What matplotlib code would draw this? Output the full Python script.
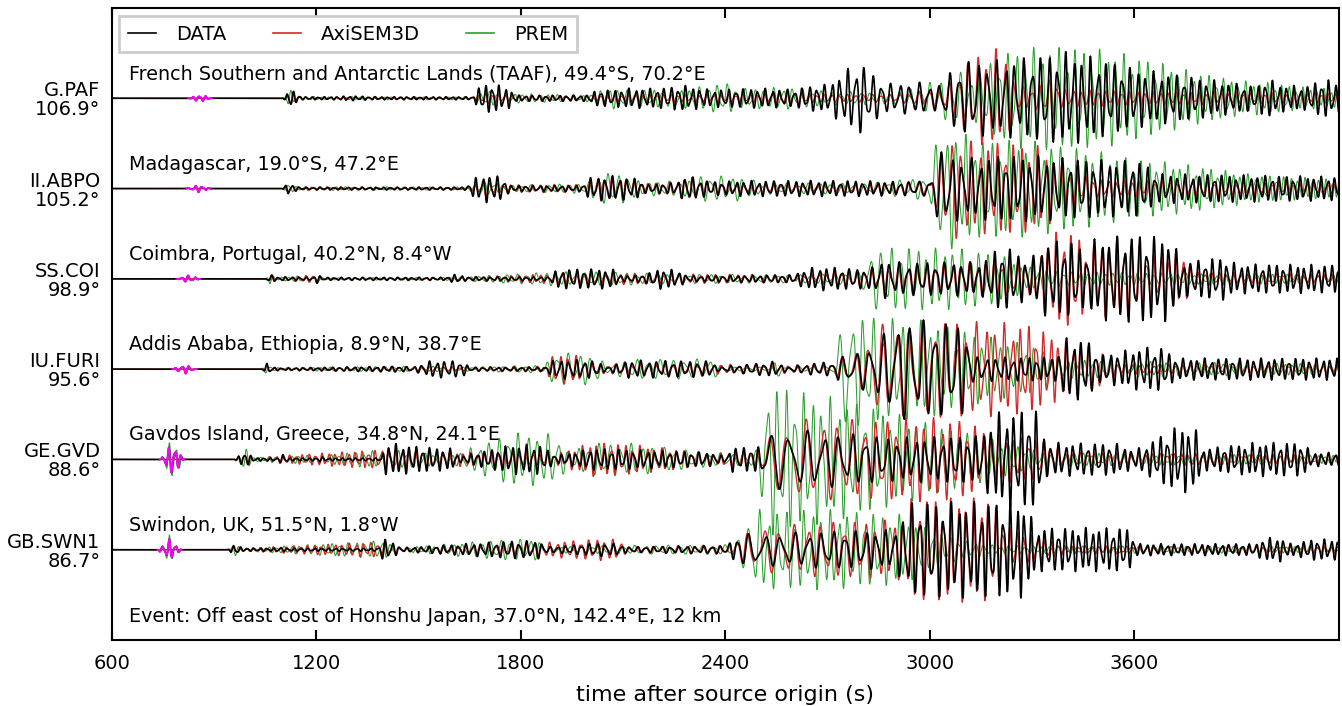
import numpy as np
import matplotlib
matplotlib.use("Agg")
import matplotlib.pyplot as plt

# ---------------- data ----------------
STATIONS = ["G.PAF", "II.ABPO", "SS.COI", "IU.FURI", "GE.GVD", "GB.SWN1"]
DISTANCES = [106.9, 105.2, 98.9, 95.6, 88.6, 86.7]
LOCATIONS = [
    "French Southern and Antarctic Lands (TAAF), 49.4°S, 70.2°E",
    "Madagascar, 19.0°S, 47.2°E",
    "Coimbra, Portugal, 40.2°N, 8.4°W",
    "Addis Ababa, Ethiopia, 8.9°N, 38.7°E",
    "Gavdos Island, Greece, 34.8°N, 24.1°E",
    "Swindon, UK, 51.5°N, 1.8°W",
]
EVENT = "Event: Off east cost of Honshu Japan, 37.0°N, 142.4°E, 12 km"
SERIES = ["DATA", "AxiSEM3D", "PREM"]
XTICKS = [600, 1200, 1800, 2400, 3000, 3600]
T_START, T_END = 600, 4200
# data window drawn in magenta (s)
MAGENTA_WINDOWS = [(825, 895), (820, 890), (790, 860), (778, 850), (742, 812), (735, 805)]

# envelopes: (time s, amplitude in hundredths of trace spacing)
DATA_PAF = [(600,0),(825,0),(860,4),(895,0),(1100,0),(1110,2),(1122,11),(1140,5),(1160,1.5),(1250,1.5),(1300,2.5),
            (1380,1.5),(1660,1.5),(1680,13),(1720,15),(1766,10),(1790,3),(1990,3),(2030,9),(2068,8),(2100,10),
            (2200,10),(2280,13),(2350,9),(2500,10),(2600,9),(2654,13),(2700,14),(2760,30),(2800,36),
            (2830,25),(2870,15),(2980,16),(3020,12),(3069,30),(3110,38),(3200,38),(3300,42),(3400,47),
            (3500,40),(3600,30),(3700,25),(3800,20),(3900,15),(3960,12),(3990,22),(4020,14),(4100,12),
            (4160,20),(4200,14)]
SYN_PAF = [(600,0),(1100,0),(1110,2),(1122,10),(1140,4),(1160,1),(1380,1),(1660,1),(1700,6),(1766,3),
           (2000,3),(2100,4),(2400,4),(2600,6),(2700,4),(2900,4),(3040,10),(3080,25),(3131,45),(3180,50),
           (3221,48),(3250,15),(3300,9),(3360,22),(3390,9),(3600,7),(4200,5)]
PREM_PAF = [(600,0),(1100,0),(1110,2),(1122,9),(1140,4),(1160,1.5),(1380,1.5),(1660,1.5),(1700,8),(1766,5),
            (1990,3),(2068,11),(2100,8),(2300,10),(2400,16),(2450,10),(2600,11),(2700,7),(2900,6),
            (3040,20),(3080,28),(3120,20),(3170,35),(3250,50),(3400,52),(3530,48),(3650,38),(3760,28),
            (3900,18),(3990,16),(4100,11),(4200,9)]

DATA_ABPO = [(600,0),(820,0),(856,4),(890,0),(1100,0),(1108,2),(1117,7),(1135,3),(1160,1),(1640,1.5),
             (1660,10),(1700,14),(1745,12),(1770,3),(1980,3),(2000,11),(2060,13),(2147,10),(2170,4),
             (2250,6),(2290,13),(2322,10),(2360,7),(2460,8),(2790,8),(2900,7),(3000,8),(3025,37),
             (3060,37),(3090,30),(3200,33),(3300,33),(3450,30),(3540,28),(3625,28),(3660,15),(4200,12)]
SYN_ABPO = [(600,0),(1100,0),(1108,2),(1117,6),(1140,2),(1640,1),(1700,8),(1745,4),(1990,4),(2040,13),
            (2100,10),(2147,5),(2260,7),(2290,14),(2322,7),(2460,4),(2800,4),(3000,7),(3030,30),
            (3050,52),(3150,45),(3230,47),(3330,42),(3400,20),(3500,9),(4200,5)]
PREM_ABPO = [(600,0),(1100,0),(1108,2),(1117,6),(1140,2),(1640,1.5),(1700,7),(1745,3),(1990,5),(2040,16),
             (2120,14),(2147,7),(2300,8),(2322,13),(2460,12),(2500,6),(2800,5),(3000,12),(3025,58),
             (3060,60),(3150,50),(3300,48),(3450,40),(3600,30),(3760,24),(3950,14),(4200,9)]

DATA_COI = [(600,0),(790,0),(826,4),(860,0),(1050,0),(1058,2),(1064,6),(1080,2),(1190,1.5),(1201,5),(1220,1.5),
            (1580,1.5),(1610,5),(1640,2),(1880,2),(1910,10),(2068,10),(2100,3),(2160,4),(2214,11),(2263,8),
            (2290,3),(2600,4),(2640,11),(2700,12),(2790,10),(2835,12),(2861,20),(2900,17),(3150,17),
            (3206,33),(3247,30),(3290,18),(3341,38),(3426,38),(3460,25),(3479,40),(3600,45),(3707,42),
            (3740,17),(3856,22),(3900,15),(4200,14)]
SYN_COI = [(600,0),(1050,0),(1064,5),(1080,1.5),(1201,4),(1220,1),(1600,1.5),(1900,5),(2068,6),(2214,5),
           (2600,4),(2700,6),(2800,9),(2900,12),(3150,17),(3300,20),(3373,48),(3426,48),(3460,30),
           (3500,38),(3605,38),(3640,25),(3738,27),(3780,7),(4200,5)]
PREM_COI = [(600,0),(1050,0),(1064,5),(1080,1.5),(1201,4),(1220,1),(1600,1.5),(1900,7),(2068,7),(2214,5),
            (2600,4),(2790,6),(2835,30),(2900,32),(3100,30),(3200,25),(3289,12),(3400,7),(4200,4)]

DATA_FURI = [(600,0),(778,0),(814,5),(850,0),(1040,0),(1048,2),(1055,6),(1075,2),(1100,1),(1445,3),
             (1485,2),(1540,9),(1630,8),(1650,2),(1870,2),(1900,10),(2020,9),(2050,2),(2117,9),(2360,8),
             (2380,2),(2547,8),(2580,2),(2674,7),(2723,7),(2732,13),(2755,13),(2800,20),(2861,33),
             (2891,50),(3000,50),(3100,45),(3130,12),(3370,12),(3393,31),(3457,31),(3500,14),(3624,22),
             (3686,22),(3720,11),(4200,11)]
SYN_FURI = [(600,0),(1040,0),(1055,5),(1075,1.5),(1540,3),(1630,2),(1870,3),(1900,16),(1960,14),(2020,5),
            (2117,5),(2360,5),(2700,4),(2800,20),(2840,44),(3020,50),(3290,45),(3400,28),(3477,22),
            (3560,5),(4200,4)]
PREM_FURI = [(600,0),(1040,0),(1055,6),(1075,1.5),(1540,3),(1630,2),(1870,4),(1900,17),(2020,15),(2050,4),
             (2117,10),(2360,10),(2400,2),(2540,2),(2547,11),(2570,2),(2720,4),(2752,64),(2800,55),
             (3000,48),(3200,30),(3290,25),(3400,9),(4200,5)]

DATA_GVD = [(600,0),(742,0),(778,17),(812,0),(960,0),(990,8),(1020,1.5),(1090,1.5),(1102,6),(1120,1.5),(1200,1.5),
            (1210,3),(1230,1.5),(1390,1.5),(1406,17),(1500,13),(1600,11),(1620,3),(1775,15),(1855,15),(1905,4),
            (2010,11),(2128,10),(2360,7),(2400,3),(2419,13),(2440,12),(2500,13),(2540,30),(2700,28),
            (2900,22),(3150,24),(3195,47),(3315,50),(3340,17),(3550,16),(3600,9),(3722,33),(3777,33),
            (3800,11),(3953,17),(4095,17),(4120,7),(4200,7)]
SYN_GVD = [(600,0),(960,0),(990,7),(1020,1.5),(1102,4),(1406,10),(1600,7),(1775,8),(1905,6),(2010,17),
           (2128,15),(2360,6),(2500,8),(2530,25),(2600,40),(2800,40),(3000,42),(3090,40),(3200,25),
           (3330,20),(3400,7),(4200,5)]
PREM_GVD = [(600,0),(742,0),(778,22),(812,0),(960,0),(990,12),(1020,2),(1102,4),(1210,4),(1406,10),
            (1600,5),(1775,27),(1905,25),(1940,7),(2010,17),(2128,16),(2360,7),(2440,6),(2500,10),
            (2512,80),(2560,75),(2650,66),(2800,56),(2980,38),(3160,22),(3330,7),(4200,4)]

DATA_SWN1 = [(600,0),(735,0),(770,11),(805,0),(940,0),(962,6),(985,1.5),(1080,1.5),(1093,3),(1110,1.5),(1380,1.5),
             (1395,11),(1420,9),(1450,2),(1775,9),(1855,9),(1880,3),(2030,7),(2090,6),(2110,3),(2400,4),
             (2420,9),(2440,16),(2530,16),(2700,19),(2900,20),(2942,48),(3280,48),(3310,22),(3400,22),
             (3580,22),(3610,6),(3960,6),(3977,12),(4030,12),(4060,6),(4130,11),(4200,10)]
SYN_SWN1 = [(600,0),(940,0),(962,5),(985,1.5),(1395,8),(1450,2),(1775,5),(2030,11),(2090,10),(2110,3),
            (2420,5),(2440,13),(2500,22),(2700,28),(2920,30),(2942,52),(3183,52),(3220,25),(3350,9),
            (3400,4),(4200,4)]
PREM_SWN1 = [(600,0),(735,0),(770,15),(805,0),(940,0),(962,6),(985,1.5),(1395,9),(1450,2),(1775,11),
             (1855,10),(1880,3),(2030,4),(2420,5),(2460,21),(2478,40),(2700,40),(2920,35),(3000,20),
             (3100,9),(3200,4),(4200,3)]

# dominant periods (time s, period s) for DATA / AxiSEM3D and for PREM
PERIOD_PAF = [(600,20),(1100,18),(2700,22),(3000,30),(3100,28),(3400,24),(4200,20)]
PERIOD_ABPO = [(600,20),(2900,22),(3000,35),(3060,30),(3200,24),(4200,20)]
PERIOD_COI = [(600,20),(2800,22),(2900,28),(3200,23),(4200,20)]
PERIOD_FURI = [(600,20),(2700,25),(2760,40),(2900,40),(3100,30),(3300,22),(4200,20)]
PERIOD_GVD = [(600,18),(2500,22),(2540,60),(2700,45),(2900,28),(3200,22),(4200,20)]
PERIOD_SWN1 = [(600,18),(2440,25),(2480,50),(2700,35),(2940,24),(3300,20),(4200,20)]
PERIOD_PREM_PAF = [(600,20),(3100,30),(3250,25),(4200,20)]
PERIOD_PREM_ABPO = [(600,20),(3000,35),(3100,26),(4200,20)]
PERIOD_PREM_COI = [(600,20),(2830,35),(2900,26),(4200,22)]
PERIOD_PREM_FURI = [(600,20),(2740,40),(2800,30),(3000,26),(4200,22)]
PERIOD_PREM_GVD = [(600,18),(2500,35),(2560,26),(4200,22)]
PERIOD_PREM_SWN1 = [(600,18),(2460,35),(2520,26),(4200,22)]

DATA_ENV = [DATA_PAF, DATA_ABPO, DATA_COI, DATA_FURI, DATA_GVD, DATA_SWN1]
SYN_ENV = [SYN_PAF, SYN_ABPO, SYN_COI, SYN_FURI, SYN_GVD, SYN_SWN1]
PREM_ENV = [PREM_PAF, PREM_ABPO, PREM_COI, PREM_FURI, PREM_GVD, PREM_SWN1]
PERIODS = [PERIOD_PAF, PERIOD_ABPO, PERIOD_COI, PERIOD_FURI, PERIOD_GVD, PERIOD_SWN1]
PERIODS_PREM = [PERIOD_PREM_PAF, PERIOD_PREM_ABPO, PERIOD_PREM_COI, PERIOD_PREM_FURI,
                PERIOD_PREM_GVD, PERIOD_PREM_SWN1]

# ---------------- build waveforms ----------------
t = np.arange(T_START, T_END + 0.5, 1.0)


def knots_interp(knots, x):
    kt, kv = zip(*knots)
    return np.interp(x, kt, kv)


def waveform(env_knots, per_knots, shift):
    env = knots_interp(env_knots, t) / 100.0
    per = knots_interp(per_knots, t)
    ph = 2 * np.pi * np.cumsum(1.0 / per)
    w = 0.82 * np.sin(ph + shift) + 0.3 * np.sin(1.63 * ph + 2 * shift + 0.7)
    return env * w


C_DATA, C_SYN, C_PREM, C_MAG = "black", "#d62728", "#2ca02c", "#ff00ff"
FS = 13.8

fig = plt.figure(figsize=(13.42, 7.06), dpi=100)
ax = fig.add_axes([0.0832, 0.0935, 0.9146, 0.8952])

n = len(STATIONS)
offsets = [n - 1 - i for i in range(n)]
for i in range(n):
    off = offsets[i]
    d = waveform(DATA_ENV[i], PERIODS[i], 0.0)
    s = waveform(SYN_ENV[i], PERIODS[i], 0.45)
    p = waveform(PREM_ENV[i], PERIODS_PREM[i], 1.1)
    ax.plot(t, p + off, color=C_PREM, lw=0.75, zorder=1, label=SERIES[2] if i == 0 else None)
    ax.plot(t, s + off, color=C_SYN, lw=0.95, zorder=2, label=SERIES[1] if i == 0 else None)
    ax.plot(t, d + off, color=C_DATA, lw=1.2, zorder=3, label=SERIES[0] if i == 0 else None)
    w0, w1 = MAGENTA_WINDOWS[i]
    m = (t >= w0) & (t <= w1)
    ax.plot(t[m], d[m] + off, color=C_MAG, lw=1.3, zorder=4)
    ax.text(651, off + 0.21, LOCATIONS[i], fontsize=FS, va="baseline", ha="left")

ax.text(651, -0.80, EVENT, fontsize=FS, va="baseline", ha="left")

ax.set_xlim(T_START, T_END)
ax.set_ylim(-1, n)
ax.set_xticks(XTICKS)
ax.set_xticklabels([str(x) for x in XTICKS], fontsize=14)
ax.set_yticks(offsets)
ax.set_yticklabels([f"{s}\n{d:.1f}°" for s, d in zip(STATIONS, DISTANCES)], fontsize=14)
for lab in ax.get_yticklabels():
    lab.set_linespacing(1.0)
ax.tick_params(axis="y", length=0, pad=8)
ax.tick_params(axis="x", direction="in", top=True, length=7, width=1.5, pad=10)
for sp in ax.spines.values():
    sp.set_linewidth(1.5)
ax.set_xlabel("time after source origin (s)", fontsize=16, labelpad=9)

h, l = ax.get_legend_handles_labels()
order = [l.index(k) for k in SERIES]
leg = ax.legend([h[k] for k in order], [l[k] for k in order], loc="upper left", ncol=3,
                fontsize=14, fancybox=False, framealpha=1, edgecolor="#cccccc",
                handlelength=1.45, handletextpad=1.0, columnspacing=2.4,
                borderpad=0.45, borderaxespad=0.4)
leg.get_frame().set_linewidth(2)
for lh in leg.get_lines():
    lh.set_linewidth(1.2)

fig.savefig("out.png", dpi=100)
